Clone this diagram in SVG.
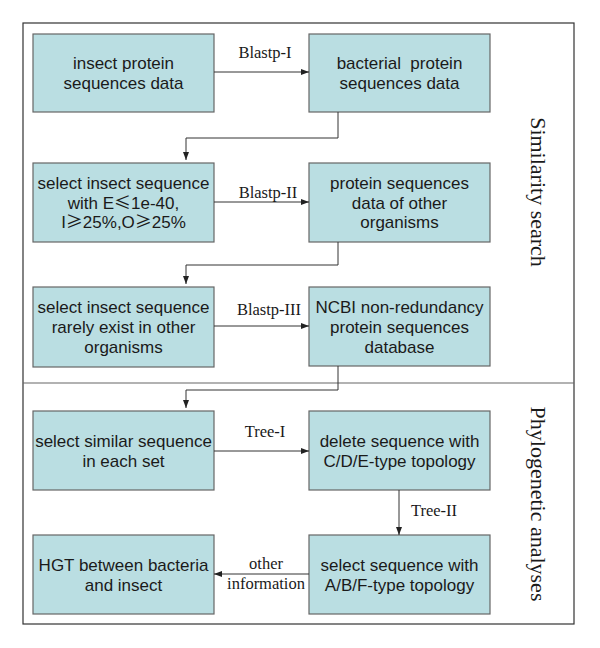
<svg xmlns="http://www.w3.org/2000/svg" width="600" height="648" viewBox="0 0 600 648">
<defs>
<marker id="ah" viewBox="0 0 8 6" refX="8" refY="3" markerWidth="8" markerHeight="6" orient="auto" markerUnits="userSpaceOnUse">
<path d="M0,0 L8,3 L0,6 Z" fill="#222"/>
</marker>
<style>
.box{fill:#badee2;stroke:#666;stroke-width:1.2}
.bt{font-family:"Liberation Sans",Arial,sans-serif;font-size:17px;fill:#1a1a1a;text-anchor:middle}
.cjk{font-family:"Noto Sans CJK SC","Liberation Sans",sans-serif}
.lb{font-family:"Liberation Serif","Times New Roman",serif;font-size:16.5px;fill:#1a1a1a;text-anchor:middle}
.side{font-family:"Liberation Serif","Times New Roman",serif;font-size:22px;fill:#1a1a1a;text-anchor:middle}
.con{fill:none;stroke:#333;stroke-width:1}
</style>
</defs>
<rect width="600" height="648" fill="#fff"/>
<rect x="23" y="23" width="551" height="601" fill="none" stroke="#333" stroke-width="1.2"/>
<line x1="23" y1="383" x2="574" y2="383" stroke="#666" stroke-width="1.2"/>
<text class="side" transform="translate(531,192) rotate(90)">Similarity search</text>
<text class="side" transform="translate(531,504) rotate(90)">Phylogenetic analyses</text>

<g id="n1"><rect class="box" x="33" y="34" width="181" height="78"/><text class="bt" x="123.5" y="69">insect protein</text><text class="bt" x="123.5" y="89">sequences data</text></g>
<g id="n2"><rect class="box" x="309" y="34" width="181" height="78"/><text class="bt" x="399.5" y="69" xml:space="preserve">bacterial  protein</text><text class="bt" x="399.5" y="89">sequences data</text></g>
<g id="n3"><rect class="box" x="33" y="163" width="181" height="79"/><text class="bt" x="123.5" y="189">select insect sequence</text><text class="bt" x="123.5" y="209">with E<tspan class="cjk">≤</tspan>1e-40,</text><text class="bt" x="123.5" y="228">I<tspan class="cjk">≥</tspan>25%,O<tspan class="cjk">≥</tspan>25%</text></g>
<g id="n4"><rect class="box" x="309" y="163" width="181" height="79"/><text class="bt" x="399.5" y="189">protein sequences</text><text class="bt" x="399.5" y="209">data of other</text><text class="bt" x="399.5" y="228">organisms</text></g>
<g id="n5"><rect class="box" x="33" y="287" width="181" height="80"/><text class="bt" x="123.5" y="313">select insect sequence</text><text class="bt" x="123.5" y="333">rarely exist in other</text><text class="bt" x="123.5" y="353">organisms</text></g>
<g id="n6"><rect class="box" x="309" y="287" width="181" height="79"/><text class="bt" x="399.5" y="313">NCBI non-redundancy</text><text class="bt" x="399.5" y="333">protein sequences</text><text class="bt" x="399.5" y="353">database</text></g>
<g id="n7"><rect class="box" x="33" y="411" width="181" height="79"/><text class="bt" x="123.5" y="447">select similar sequence</text><text class="bt" x="123.5" y="467">in each set</text></g>
<g id="n8"><rect class="box" x="309" y="411" width="181" height="79"/><text class="bt" x="399.5" y="447">delete sequence with</text><text class="bt" x="399.5" y="467">C/D/E-type topology</text></g>
<g id="n9"><rect class="box" x="33" y="535" width="181" height="79"/><text class="bt" x="123.5" y="571">HGT between bacteria</text><text class="bt" x="123.5" y="591">and insect</text></g>
<g id="n10"><rect class="box" x="309" y="535" width="181" height="79"/><text class="bt" x="399.5" y="571">select sequence with</text><text class="bt" x="399.5" y="591">A/B/F-type topology</text></g>

<g id="connectors">
<line class="con" x1="214" y1="72" x2="309" y2="72" marker-end="url(#ah)"/>
<path class="con" d="M338,112 V138 H186 V160" marker-end="url(#ah)"/>
<line class="con" x1="214" y1="202" x2="309" y2="202" marker-end="url(#ah)"/>
<path class="con" d="M338,242 V265 H186 V284" marker-end="url(#ah)"/>
<line class="con" x1="214" y1="326" x2="309" y2="326" marker-end="url(#ah)"/>
<path class="con" d="M338,366 V390 H186 V408" marker-end="url(#ah)"/>
<line class="con" x1="214" y1="451" x2="309" y2="451" marker-end="url(#ah)"/>
<line class="con" x1="399" y1="490" x2="399" y2="535" marker-end="url(#ah)"/>
<line class="con" x1="309" y1="574" x2="214" y2="574" marker-end="url(#ah)"/>
<text class="lb" x="265" y="58">Blastp-I</text>
<text class="lb" x="268" y="198">Blastp-II</text>
<text class="lb" x="269" y="315">Blastp-III</text>
<text class="lb" x="265" y="437">Tree-I</text>
<text class="lb" x="434" y="516">Tree-II</text>
<text class="lb" x="266" y="569">other</text>
<text class="lb" x="266" y="589">information</text>
</g>
</svg>
